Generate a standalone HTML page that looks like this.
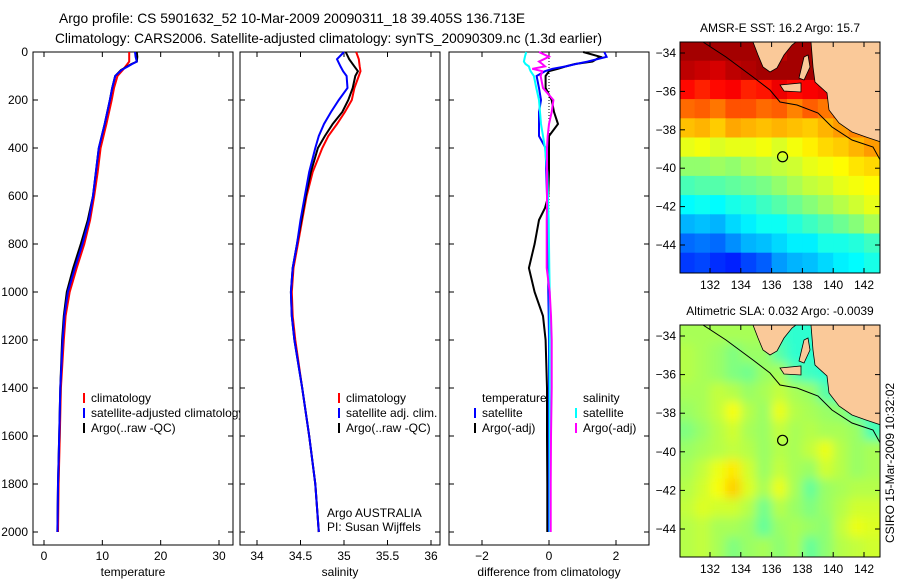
<!DOCTYPE html>
<html><head><meta charset="utf-8"><style>
body{margin:0;background:#fff;}
svg{display:block;font-family:"Liberation Sans",sans-serif;}
</style></head><body>
<svg id="fig" width="900" height="580" viewBox="0 0 900 580" xmlns="http://www.w3.org/2000/svg">
<defs><filter id="soft" x="-5%" y="-5%" width="110%" height="110%"><feGaussianBlur stdDeviation="5"/></filter></defs>
<rect x="0" y="0" width="900" height="580" fill="#fff"/>
<text x="59" y="23" font-size="13.8">Argo profile: CS 5901632_52 10-Mar-2009 20090311_18 39.405S 136.713E</text>
<text x="55" y="43" font-size="13.7">Climatology: CARS2006. Satellite-adjusted climatology: synTS_20090309.nc (1.3d earlier)</text>
<g id="g"></g>
</svg>
<script>
// ---- profile data ----
const tDepth = [0,20,40,50,75,100,150,200,300,400,500,600,700,800,900,1000,1100,1200,1400,1600,1800,2000];
const tArgo = [15.9,16.0,15.9,15.0,13.2,12.2,11.7,11.3,10.4,9.4,8.9,8.4,7.5,6.3,5.0,3.9,3.4,3.1,2.8,2.6,2.4,2.3];
const tSat  = [15.6,15.7,15.9,15.1,13.3,12.2,11.7,11.3,10.4,9.4,8.9,8.4,7.7,6.6,5.3,4.1,3.5,3.2,2.8,2.6,2.4,2.3];
const tClim = [14.6,14.6,14.6,14.3,13.5,12.6,12.0,11.6,10.7,9.7,9.2,8.6,7.9,6.9,5.6,4.4,3.7,3.4,2.9,2.7,2.5,2.4];

const sDepth = [0,30,60,80,100,150,200,250,300,350,400,500,600,700,800,900,1000,1100,1200,1400,1600,1800,2000];
const sArgo = [35.02,35.06,35.12,35.16,35.13,35.10,35.05,34.98,34.87,34.78,34.70,34.62,34.56,34.51,34.46,34.41,34.39,34.40,34.43,34.52,34.60,34.67,34.71];
const sSat  = [35.00,34.92,34.96,34.99,35.03,35.04,34.94,34.85,34.77,34.71,34.67,34.60,34.55,34.50,34.46,34.41,34.39,34.40,34.43,34.52,34.60,34.67,34.71];
const sClim = [35.14,35.17,35.18,35.19,35.17,35.12,35.09,35.01,34.92,34.82,34.75,34.64,34.57,34.52,34.47,34.42,34.40,34.41,34.44,34.52,34.60,34.67,34.71];

const dDepth = [0,20,40,50,60,70,80,100,150,200,250,300,350,400,500,600,650,700,800,900,1000,1100,1200,1400,1600,1800,2000];
const dTArgo = [1.02,1.53,1.30,0.78,0.5,0.27,0.0,-0.1,-0.1,0.08,0.15,0.27,0.0,0.0,0.0,-0.02,-0.12,-0.3,-0.43,-0.6,-0.43,-0.18,-0.1,-0.06,-0.06,-0.05,-0.05];
const dTSat  = [1.65,1.72,1.15,0.8,0.5,0.1,-0.12,-0.37,-0.3,-0.24,-0.3,-0.3,-0.3,-0.1,-0.08,-0.06,-0.05,-0.04,-0.03,-0.02,-0.02,-0.01,0,0,0,0,0];
const dSSat  = [-0.68,-0.72,-0.75,-0.7,-0.6,-0.58,-0.55,-0.45,-0.38,-0.3,-0.27,-0.24,-0.18,-0.12,-0.05,-0.03,-0.02,-0.01,0,0.01,0.02,0.02,0.02,0.02,0.02,0.02,0.02];
const dSArgo = [-0.3,0.0,-0.3,-0.2,-0.12,-0.5,-0.2,-0.25,-0.18,0.13,0.08,0.0,-0.04,-0.06,-0.06,-0.06,-0.06,-0.07,-0.07,-0.07,0.02,0.06,0.08,0.08,0.06,0.05,0.05];

const depthTicks = [0,200,400,600,800,1000,1200,1400,1600,1800,2000];
const tempTicks = [0,10,20,30];
const salTicks = [34,34.5,35,35.5,36];
const salTickLabels = ["34","34.5","35","35.5","36"];
const diffTicks = [-2,0,2];

// ---- map data ----
const mapLonTicks = [132,134,136,138,140,142];
const mapLatTicks = [-34,-36,-38,-40,-42,-44];
const gridLon = [130,131,132,133,134,135,136,137,138,139,140,141,142];
const gridLat = [-33.4,-34.4,-35.4,-36.4,-37.4,-38.4,-39.4,-40.4,-41.4,-42.4,-43.4,-44.4];
const sstGrid = [
[19,19,19,19,19,19,18.8,19,19,19,19,19,19],
[18.8,18.7,18.6,18.8,18.9,19,19,19,19,19,19,19,19],
[18.2,18.0,18.2,18.3,18.0,18.1,18.4,18.2,18.3,18.4,19,19,19],
[17.4,17.5,17.3,17.6,17.6,17.4,17.5,17.2,17.5,17.3,17.6,17.8,17.5],
[16.7,16.8,16.6,16.9,16.8,16.7,16.8,16.7,16.6,16.8,17.0,17.2,17.3],
[16.0,16.1,15.9,16.0,16.0,16.1,15.9,16.1,16.3,16.5,16.6,16.8,17.0],
[15.3,15.3,15.4,15.3,15.5,15.6,15.7,15.8,16.0,16.1,16.2,16.4,16.5],
[14.7,14.8,14.8,14.9,15.0,15.1,15.3,15.5,15.7,15.8,16.0,16.1,16.2],
[14.1,14.2,14.1,14.3,14.4,14.6,14.8,15.0,15.2,15.4,15.6,15.8,16.0],
[13.5,13.6,13.5,13.8,14.0,14.2,14.2,14.4,14.6,14.8,15.0,15.2,15.5],
[12.9,13.0,12.9,13.2,13.5,13.6,13.8,14.0,14.0,14.3,14.3,14.4,14.6],
[12.5,12.6,12.4,12.3,12.6,12.8,13.3,13.5,13.6,13.8,14.0,14.1,14.3]];
const slaGrid = [
[.03,.03,.03,.03,.03,.03,-.05,-.06,-.06,-.06,-.06,-.06,-.06],
[.04,.03,.02,.0,.02,.02,-.03,-.06,-.06,-.06,-.06,-.06,-.06],
[.04,.03,.02,.0,-.01,.02,.03,-.03,-.05,-.06,-.06,-.06,-.06],
[.03,.03,.05,.04,.02,.03,.05,.03,.02,-.03,-.05,-.06,-.06],
[.02,.03,.05,.09,.04,.02,.08,.04,.03,.02,.01,-.03,-.05],
[.0,.02,.04,.06,.03,.02,.05,.03,.04,.03,.03,.02,-.04],
[.02,.03,.04,.05,.04,.02,.04,.03,.05,.08,.04,.02,.03],
[.03,.05,.08,.11,.06,.02,.05,.03,.02,.06,.04,.02,.03],
[.04,.06,.09,.13,.07,.03,.08,.03,-.02,.02,.03,.04,.04],
[.05,.07,.06,.06,.04,-.01,.04,.02,.0,.02,.04,.06,.06],
[.04,.05,.03,.03,.02,-.02,.02,.03,.02,.01,.05,.08,.07],
[.04,.05,.03,.0,.02,.03,.01,.03,-.02,.01,.04,.05,.06]];
const argoLon = 136.713, argoLat = -39.405;

const NS="http://www.w3.org/2000/svg";
const root=document.getElementById('g');
function mk(tag,attrs,parent){const e=document.createElementNS(NS,tag);for(const k in attrs)e.setAttribute(k,attrs[k]);(parent||root).appendChild(e);return e;}
function txt(x,y,s,opt,parent){const e=mk('text',Object.assign({x:x,y:y,'font-size':12},opt||{}),parent);e.textContent=s;return e;}

const PT=52, PB=545;
const yD = d => PT + d*0.24;
function linScale(v0,p0,v1,p1){return v=>p0+(v-v0)*(p1-p0)/(v1-v0);}

function panel(name,L,R,xs,xt,xtl,xlabel,showY){
  const g=mk('g',{});
  
  
  const b=mk('rect',{x:L,y:PT,width:R-L,height:PB-PT,fill:'#fff',stroke:'#000','stroke-width':1},g);
  
  
  depthTicks.forEach(d=>{
    const y=yD(d);
    mk('line',{x1:L,x2:L+5,y1:y,y2:y,stroke:'#000'},g);
    mk('line',{x1:R-5,x2:R,y1:y,y2:y,stroke:'#000'},g);
    if(showY){const t=txt(28,y+4,String(d),{'text-anchor':'end'},g);
      
      }
  });
  xt.forEach((v,i)=>{
    const x=xs(v);
    mk('line',{x1:x,x2:x,y1:PB,y2:PB-5,stroke:'#000'},g);
    mk('line',{x1:x,x2:x,y1:PT,y2:PT+5,stroke:'#000'},g);
    const t=txt(x,560,xtl[i],{'text-anchor':'middle'},g);
    
    
  });
  const xl=txt((L+R)/2,576,xlabel,{'text-anchor':'middle'},g);
  
  
  return g;
}
function line(g,xs,xv,dv,color,name,w){
  const pts=xv.map((v,i)=>xs(v).toFixed(1)+','+yD(dv[i]).toFixed(1)).join(' ');
  const p=mk('polyline',{points:pts,fill:'none',stroke:color,'stroke-width':w||2},g);
  
  
}
function legendEntry(g,x,y,color,label,name){
  const e=mk('g',{},g);
  
  
  if(color) mk('line',{x1:x,x2:x,y1:y-9,y2:y+1,stroke:color,'stroke-width':2},e);
  txt(x+7,y,label,{},e);
}

const xT=linScale(0,44,30,219);
const p1=panel('temperature-panel',33,233,xT,tempTicks,tempTicks.map(String),'temperature',true);
line(p1,xT,tClim,tDepth,'#ff0000','temp-climatology-line');
line(p1,xT,tArgo,tDepth,'#000000','temp-argo-line');
line(p1,xT,tSat,tDepth,'#0000ff','temp-satellite-line');
legendEntry(p1,84,402,'#ff0000','climatology','legend-climatology');
legendEntry(p1,84,417,'#0000ff','satellite-adjusted climatology','legend-satellite-adjusted');
legendEntry(p1,84,432,'#000','Argo(..raw -QC)','legend-argo');

const xS=linScale(34,257,36,431);
const p2=panel('salinity-panel',240,440,xS,salTicks,salTickLabels,'salinity',false);
line(p2,xS,sClim,sDepth,'#ff0000','sal-climatology-line');
line(p2,xS,sArgo,sDepth,'#000000','sal-argo-line');
line(p2,xS,sSat,sDepth,'#0000ff','sal-satellite-line');
legendEntry(p2,339,402,'#ff0000','climatology','legend-climatology');
legendEntry(p2,339,417,'#0000ff','satellite adj. clim.','legend-satellite-adj');
legendEntry(p2,339,432,'#000','Argo(..raw -QC)','legend-argo');
const c1=txt(327,517,'Argo AUSTRALIA',{},p2);


const c2=txt(327,531,'PI: Susan Wijffels',{},p2);



const xDf=linScale(-2,482,2,616);
const p3=panel('difference-panel',449,649,xDf,diffTicks,diffTicks.map(v=>v<0?'\u2212'+Math.abs(v):String(v)),'difference from climatology',false);
mk('line',{x1:xDf(0),x2:xDf(0),y1:yD(0),y2:yD(2000),stroke:'#000','stroke-dasharray':'1,2','stroke-width':1},p3);
line(p3,xDf,dTArgo,dDepth,'#000000','diff-temp-argo-line');
line(p3,xDf,dTSat,dDepth,'#0000ff','diff-temp-satellite-line');
line(p3,xDf,dSSat,dDepth,'#00ffff','diff-sal-satellite-line');
line(p3,xDf,dSArgo,dDepth,'#ff00ff','diff-sal-argo-line');
legendEntry(p3,475,402,null,'temperature','legend-temperature-header');
legendEntry(p3,576,402,null,'salinity','legend-salinity-header');
legendEntry(p3,475,417,'#0000ff','satellite','legend-temp-satellite');
legendEntry(p3,475,432,'#000','Argo(-adj)','legend-temp-argo');
legendEntry(p3,576,417,'#00ffff','satellite','legend-sal-satellite');
legendEntry(p3,576,432,'#ff00ff','Argo(-adj)','legend-sal-argo');
root.appendChild(p2);

function jet(t){t=Math.max(0,Math.min(1,t));const c=v=>Math.round(255*Math.max(0,Math.min(1,v)));
  return 'rgb('+c(1.5-Math.abs(4*t-3))+','+c(1.5-Math.abs(4*t-2))+','+c(1.5-Math.abs(4*t-1))+')';}
const eyre=[[753,42],[758,55],[763,67],[770,72],[777,68],[784,55],[792,45],[796,42]];
const yorke=[[804,57],[808,55],[810,67],[804,80],[799,78]];
const kang=[[780,85],[801,83],[801,92],[784,91]];
const main=[[811,42],[813,67],[815,82],[827,93],[829,110],[839,123],[852,132],[866,137],[884,143],[884,42]];
const shelf=[[703,42],[726,57],[753,77],[770,90],[780,102],[797,105],[818,113],[832,127],[852,140],[873,147],[884,167]];

function map(name,top,bot,lat34,lat44,grid,colorFn,title,dy,soft){
  const L=680,R=880;
  const xL=linScale(132,710,142,864), yL=linScale(-34,lat34,-44,lat44);
  const g=mk('g',{});
  
  
  const cid=name+'-clip';
  const cp=mk('clipPath',{id:cid},g);mk('rect',{x:L,y:top,width:R-L,height:bot-top},cp);
  const inner=mk('g',{'clip-path':'url(#'+cid+')'},g);
  const cells=mk('g',soft?{filter:'url(#soft)'}:{},inner);
  grid.forEach((row,i)=>row.forEach((v,j)=>{
    const x0=xL(gridLon[j]), y0=yL(gridLat[i]);
    const ww=xL(gridLon[j]+1)-x0, hh=yL(gridLat[i]-1)-y0;
    const ex=soft?12:0;
    const r=mk('rect',{x:(x0-(j===0?ex:0)).toFixed(1),y:(y0-(i===0?ex:0)).toFixed(1),width:(ww+0.6+(j===0||j===row.length-1?ex:0)).toFixed(1),height:(hh+0.6+(i===0||i===grid.length-1?ex:0)).toFixed(1),fill:colorFn(v)},cells);
    
    
  }));
  const P=a=>a.map(p=>p[0]+','+(p[1]+dy)).join(' ');
  [eyre,yorke,kang,main].forEach(poly=>{
    const lp=mk('polygon',{points:P(poly),fill:'#fac999',stroke:'#000','stroke-width':0.8},inner);
    
    
  });
  const sl=mk('polyline',{points:P(shelf),fill:'none',stroke:'#000','stroke-width':1},inner);
  
  
  const ci=mk('circle',{cx:xL(argoLon),cy:yL(argoLat),r:5,fill:'none',stroke:'#000','stroke-width':1.2},g);
  
  
  mk('rect',{x:L,y:top,width:R-L,height:bot-top,fill:'none',stroke:'#000'},g);
  mapLonTicks.forEach(v=>{const x=xL(v);
    mk('line',{x1:x,x2:x,y1:bot,y2:bot-5,stroke:'#000'},g);mk('line',{x1:x,x2:x,y1:top,y2:top+5,stroke:'#000'},g);
    const t=txt(x,bot+16,String(v),{'text-anchor':'middle'},g);
    
    });
  mapLatTicks.forEach(v=>{const y=yL(v);
    mk('line',{x1:L,x2:L+5,y1:y,y2:y,stroke:'#000'},g);mk('line',{x1:R-5,x2:R,y1:y,y2:y,stroke:'#000'},g);
    const t=txt(676,y+4,'\u2212'+Math.abs(v),{'text-anchor':'end'},g);
    
    });
  const tt=txt(780,top-10,title,{'text-anchor':'middle'},g);
  
  
}
map('sst-map',42,273,53,245,sstGrid,v=>jet((v-11)/8.3),'AMSR-E SST: 16.2 Argo: 15.7',0,false);
map('sla-map',325,557,336,529,slaGrid,v=>jet((v+0.38)/0.76),'Altimetric SLA: 0.032 Argo: -0.0039',283,true);
const stamp=txt(0,0,'CSIRO 15-Mar-2009 10:32:02',{'text-anchor':'middle',transform:'translate(894,463) rotate(-90)'});


</script>
</body></html>
